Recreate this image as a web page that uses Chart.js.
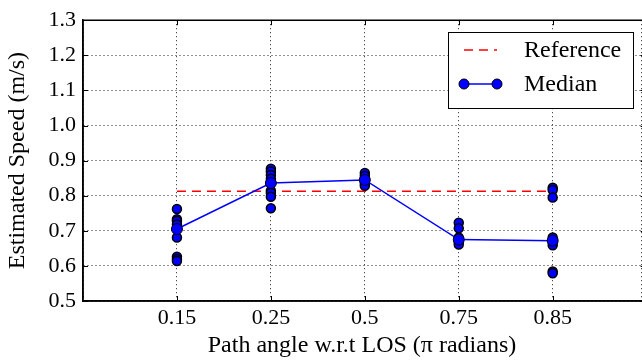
<!DOCTYPE html>
<html>
<head>
<meta charset="utf-8">
<script src="https://cdn.jsdelivr.net/npm/chart.js@4.4.1/dist/chart.umd.min.js"></script>
<style>
  html, body { margin: 0; padding: 0; background: #fff; }
  #wrap { width: 642px; height: 360px; }
</style>
</head>
<body>
<div id="wrap"><canvas id="myChart" width="642" height="360"></canvas></div>
<script>
// path angles (pi radians), drawn at positions 1..5
const categories = ['0.15', '0.25', '0.5', '0.75', '0.85'];
const referenceSpeed = 0.813;
const medianSpeed = [0.705, 0.836, 0.845, 0.675, 0.672];

// individual estimates per path angle
const samples015 = [0.762, 0.733, 0.728, 0.718, 0.681, 0.626, 0.620, 0.614];
const samples025 = [0.877, 0.869, 0.859, 0.848, 0.814, 0.808, 0.797, 0.764];
const samples050 = [0.865, 0.856, 0.835, 0.828];
const samples075 = [0.723, 0.707, 0.681, 0.669, 0.661];
const samples085 = [0.823, 0.816, 0.795, 0.681, 0.668, 0.659, 0.584, 0.579];

const yTicks = [0.5, 0.6, 0.7, 0.8, 0.9, 1.0, 1.1, 1.2, 1.3];

const serif = "'Liberation Serif', serif";

const allSamples = [samples015, samples025, samples050, samples075, samples085];
const samplePoints = [];
allSamples.forEach((list, i) => {
    list.forEach(v => samplePoints.push({x: i + 1, y: v}));
});

const medianPoints = medianSpeed.map((v, i) => ({x: i + 1, y: v}));
const referencePoints = [{x: 1, y: referenceSpeed}, {x: categories.length, y: referenceSpeed}];

// frame, inside ticks and legend box like the matplotlib original
// (the original figure is cropped just before its right spine at x = 6)
const framePlugin = {
    id: 'frame',
    afterDraw(chart) {
        const c = chart.ctx;
        const a = chart.chartArea;
        const xs = chart.scales.x, ys = chart.scales.y;
        const spineRight = xs.getPixelForValue(6);
        c.save();
        c.strokeStyle = '#000';
        c.lineWidth = 1;
        c.beginPath();
        for (let i = 1; i <= categories.length; i++) {
            const px = Math.round(xs.getPixelForValue(i)) + 0.5;
            c.moveTo(px, a.bottom); c.lineTo(px, a.bottom - 5);
            c.moveTo(px, a.top); c.lineTo(px, a.top + 5);
        }
        yTicks.forEach(v => {
            const py = Math.round(ys.getPixelForValue(v)) + 0.5;
            c.moveTo(a.left, py); c.lineTo(a.left + 5, py);
            c.moveTo(spineRight, py); c.lineTo(spineRight - 6, py);
        });
        c.stroke();
        c.lineWidth = 1.5;
        c.beginPath();
        c.moveTo(spineRight, a.top); c.lineTo(a.left, a.top);
        c.lineTo(a.left, a.bottom); c.lineTo(spineRight, a.bottom);
        c.stroke();

        // legend
        const lx = 448, ly = 32, lw = 185, lh = 76;
        c.fillStyle = '#fff';
        c.fillRect(lx, ly, lw, lh);
        c.lineWidth = 1;
        c.strokeRect(lx + 0.5, ly + 0.5, lw, lh);

        c.strokeStyle = '#ff0000';
        c.lineWidth = 1.5;
        c.setLineDash([9, 6]);
        c.beginPath();
        c.moveTo(464, 50); c.lineTo(497, 50);
        c.stroke();
        c.setLineDash([]);

        c.strokeStyle = '#0000ff';
        c.beginPath();
        c.moveTo(464, 84); c.lineTo(497, 84);
        c.stroke();
        c.fillStyle = '#0000ff';
        c.strokeStyle = '#000';
        c.lineWidth = 1;
        [464, 497].forEach(px => {
            c.beginPath();
            c.arc(px, 84, 5, 0, Math.PI * 2);
            c.fill(); c.stroke();
        });

        c.fillStyle = '#000';
        c.font = '24px ' + serif;
        c.textBaseline = 'middle';
        c.fillText('Reference', 524, 51);
        c.fillText('Median', 524, 85);
        c.restore();
    }
};

const ctx = document.getElementById('myChart').getContext('2d');
const myChart = new Chart(ctx, {
    type: 'line',
    data: {
        datasets: [{
            label: 'Reference',
            data: referencePoints,
            borderColor: '#ff0000',
            borderWidth: 1.5,
            borderDash: [9, 6],
            pointRadius: 0,
            fill: false,
            order: 3
        }, {
            label: 'Samples',
            data: samplePoints,
            showLine: false,
            pointRadius: 4.5,
            pointBackgroundColor: '#0000ff',
            pointBorderColor: '#000',
            pointBorderWidth: 1.5,
            order: 2
        }, {
            label: 'Median',
            data: medianPoints,
            borderColor: '#0000ff',
            borderWidth: 1.5,
            pointRadius: 5.5,
            pointBackgroundColor: '#0000ff',
            pointBorderColor: '#000',
            pointBorderWidth: 1,
            tension: 0,
            fill: false,
            order: 1
        }]
    },
    options: {
        responsive: false,
        animation: false,
        layout: {
            autoPadding: false,
            padding: {top: 20, right: 1, left: 0, bottom: 0}
        },
        scales: {
            x: {
                type: 'linear',
                min: 0,
                max: 5.94,
                afterFit(scale) {
                    scale.height = 59;
                    scale.paddingLeft = 0;
                    scale.paddingRight = 0;
                },
                ticks: {
                    stepSize: 1,
                    padding: 4,
                    color: '#000',
                    font: {family: serif, size: 22},
                    callback: v => categories[v - 1] || ''
                },
                grid: {
                    color: '#222',
                    drawTicks: false
                },
                border: {
                    display: true,
                    color: '#000',
                    width: 1.5,
                    dash: [1, 3]
                },
                title: {
                    display: true,
                    text: 'Path angle w.r.t LOS (π radians)',
                    color: '#000',
                    font: {family: serif, size: 24},
                    padding: {top: 0, bottom: 0}
                }
            },
            y: {
                min: 0.5,
                max: 1.3,
                afterFit(scale) { scale.width = 83; },
                ticks: {
                    stepSize: 0.1,
                    padding: 7,
                    color: '#000',
                    font: {family: serif, size: 22},
                    callback: v => v.toFixed(1)
                },
                grid: {
                    color: '#222',
                    drawTicks: false
                },
                border: {
                    display: true,
                    color: '#000',
                    width: 1.5,
                    dash: [1, 3]
                },
                title: {
                    display: true,
                    text: 'Estimated Speed (m/s)',
                    color: '#000',
                    font: {family: serif, size: 24},
                    padding: {top: 3, bottom: 0}
                }
            }
        },
        plugins: {
            legend: {display: false},
            tooltip: {enabled: false}
        }
    },
    plugins: [framePlugin]
});
</script>
</body>
</html>
